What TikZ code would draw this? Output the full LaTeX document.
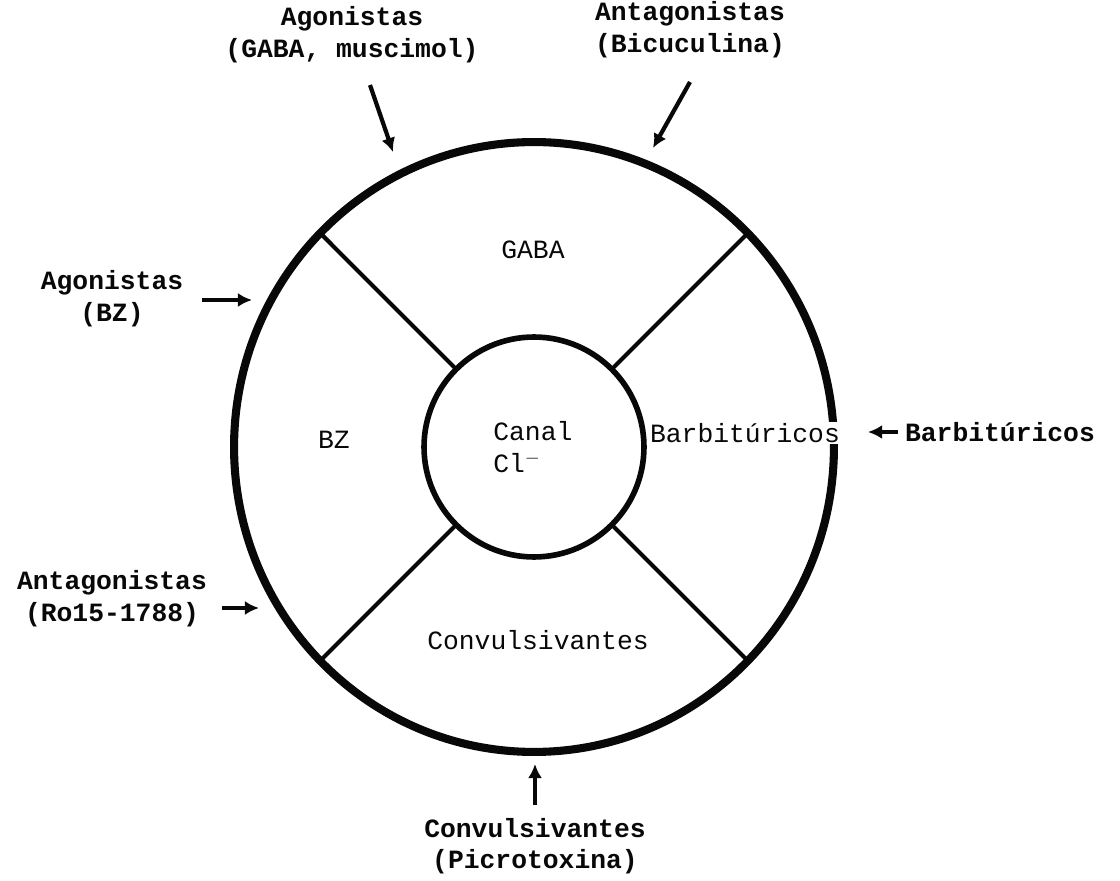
\documentclass[tikz,border=0pt]{standalone}
\usepackage{fontspec}
\usepackage{xcolor}
\usepackage{tikz}
\usetikzlibrary{arrows.meta,positioning,shapes.geometric}
\newfontfamily\prnfont{Liberation Mono}
\definecolor{inkblack}{RGB}{8,8,8}
\tikzset{
  ringc/.style={ellipse, draw=inkblack, line width=4.6pt, inner sep=0pt, outer sep=0pt, minimum width=12cm, minimum height=12.2cm},
  chanc/.style={circle, draw=inkblack, line width=3.2pt, inner sep=0pt, outer sep=0pt, minimum size=4.4cm},
  spoke/.style={line width=2.4pt, inkblack},
  drugarrow/.style={-{Latex[length=8pt,width=8pt]}, line width=2.4pt, inkblack},
  lbl/.style={font=\prnfont\bfseries\fontsize{15}{18}\selectfont, align=center, inner sep=1pt, text=inkblack},
  site/.style={font=\prnfont\fontsize{15}{18}\selectfont, inner sep=1pt, text=inkblack}
}
\begin{document}
\begin{tikzpicture}[x=0.02cm, y=0.02cm]
  \useasboundingbox (0,0) rectangle (1120,880);
  \coordinate (c) at (534,433);

  % Receptor
  \node[ringc] (ring) at (c) {};
  \node[chanc, fill=white] (chan) at (c) {};
  \foreach \a in {45,135,225,315}
    \draw[spoke] (chan.\a) -- (ring.\a);

  % Sites
  \node[site] (gaba) at (533,630) {GABA};
  \node[site] (bz) at (334,440) {BZ};
  \node[site, anchor=west, align=left, inner sep=0pt] (canal) at (493,433) {Canal\\Cl$^{-}$};
  \node[site, fill=white, inner xsep=0pt] (barb) at (745,447) {Barbitúricos};
  \node[site] (conv) at (538,240) {Convulsivantes};

  % Drugs
  \node[lbl] (agogaba) at (352,845) {Agonistas\\(GABA, muscimol)};
  \node[lbl] (antbic) at (690,850) {Antagonistas\\(Bicuculina)};
  \node[lbl] (agobz) at (112,581) {Agonistas\\(BZ)};
  \node[lbl] (antro) at (112,281) {Antagonistas\\(Ro15-1788)};
  \node[lbl, anchor=west] (barbx) at (903,448) {Barbitúricos};
  \node[lbl] (convx) at (535,34) {Convulsivantes\\(Picrotoxina)};

  % Arrows
  \coordinate (t1) at (370,795); \coordinate (h1) at (393,728);
  \coordinate (t2) at (690,798); \coordinate (h2) at (653,732);
  \coordinate (t3) at (202,580); \coordinate (h3) at (252,580);
  \coordinate (t4) at (222,272); \coordinate (h4) at (259,272);
  \coordinate (t5) at (898,448); \coordinate (h5) at (868,448);
  \coordinate (t6) at (535,75);  \coordinate (h6) at (535,116);
  \foreach \i in {1,...,6}
    \draw[drugarrow] (t\i) -- (h\i);
\end{tikzpicture}
\end{document}
